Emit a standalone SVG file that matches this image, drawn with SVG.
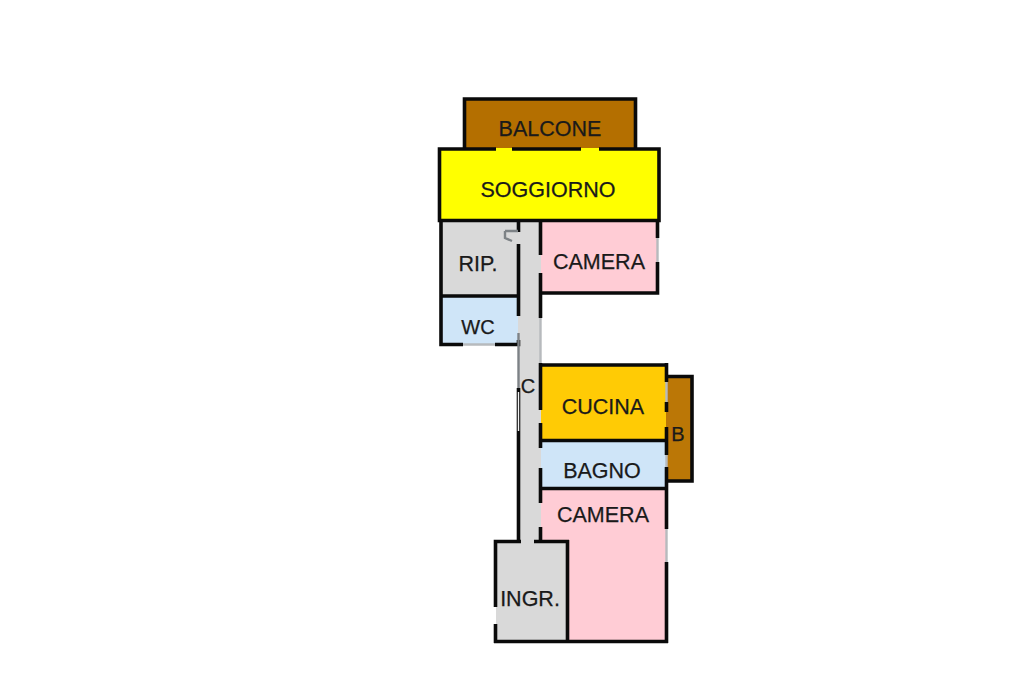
<svg xmlns="http://www.w3.org/2000/svg" width="1024" height="682" viewBox="0 0 1024 682">
<style>
.w{stroke:#0a0a0a;stroke-width:3.6;fill:none;stroke-linecap:butt;stroke-linejoin:miter}
.g{stroke:#7d8286;stroke-width:2.4;fill:none}
.l{stroke:#b7babd;stroke-width:2.4;fill:none}
.t{font-family:"Liberation Sans",Arial,sans-serif;font-size:21.5px;fill:#1a1a1a;text-anchor:middle;stroke:#1a1a1a;stroke-width:.25}
</style>
<rect width="1024" height="682" fill="#fff"/>
<g id="fills">
<rect x="465" y="100" width="171" height="49" fill="#b46f00"/>
<rect x="440" y="148" width="219" height="72" fill="#ffff00"/>
<rect x="440" y="220" width="79" height="76" fill="#d9d9d9"/>
<rect x="539" y="220" width="118" height="72" fill="#ffccd5"/>
<rect x="440" y="296" width="79" height="48" fill="#cfe5f8"/>
<rect x="518" y="220" width="23" height="322" fill="#d9d9d9"/>
<rect x="541" y="365" width="126" height="75" fill="#ffcb05"/>
<rect x="666" y="376" width="26" height="105" fill="#bb7706"/>
<rect x="541" y="440" width="126" height="48" fill="#cfe5f8"/>
<rect x="541" y="488" width="125" height="153" fill="#ffccd5"/>
<rect x="496" y="541" width="71" height="100" fill="#d9d9d9"/>
</g>
<g id="walls">
<path class="w" d="M464.500 148V99H635.500V148"/>
<path class="w" d="M439.500 149H496M512 149H581M599 149H659V220.500H439.500V147.200"/>
<path class="w" d="M657.500 222V238M657.500 262V293H539M540.500 222V255M540.500 273V318"/>
<path class="w" d="M441 220V296H519M518.500 222V232M518.500 244V316M441 294V344.500H463M495 344.500H518.500V340"/>
<path class="w" d="M539 365H668M540.500 363V410M540.500 423V448M540.500 468V503M540.500 527V542M541 440.500H666M541 488.500H668"/>
<path class="w" d="M666.500 363V382M666.500 402V412M666.500 427V455M666.500 467V529M666.500 562V643"/>
<path class="w" d="M666 376.500H692V481H666"/>
<path class="w" d="M494 641.500H668M495.500 643V624M495.500 607V541.500H521M534 541.500H569M567.500 540V643"/>
<path class="w" d="M518.500 388V543"/>
<path class="g" d="M518.500 333V388"/>
<path class="g" d="M505 231H518M505 231V238L512 241"/>
<path class="l" d="M540.500 318V363M666.500 382V402M666.500 455V467M657.500 238V262M666.500 529V562M463 344.500H495"/>
<path d="M518.500 392V431" stroke="#f4f4f4" stroke-width="1.400" fill="none"/>
</g>
<g id="labels">
<text class="t" x="550" y="136">BALCONE</text>
<text class="t" x="548" y="197">SOGGIORNO</text>
<text class="t" x="478" y="271">RIP.</text>
<text class="t" x="599" y="269">CAMERA</text>
<text class="t" x="478" y="334" style="font-size:20px">WC</text>
<text class="t" x="528" y="393" style="font-size:20px">C</text>
<text class="t" x="603" y="414">CUCINA</text>
<text class="t" x="678" y="441" style="font-size:20px">B</text>
<text class="t" x="602" y="478">BAGNO</text>
<text class="t" x="603" y="522">CAMERA</text>
<text class="t" x="530" y="606">INGR.</text>
</g>
</svg>
